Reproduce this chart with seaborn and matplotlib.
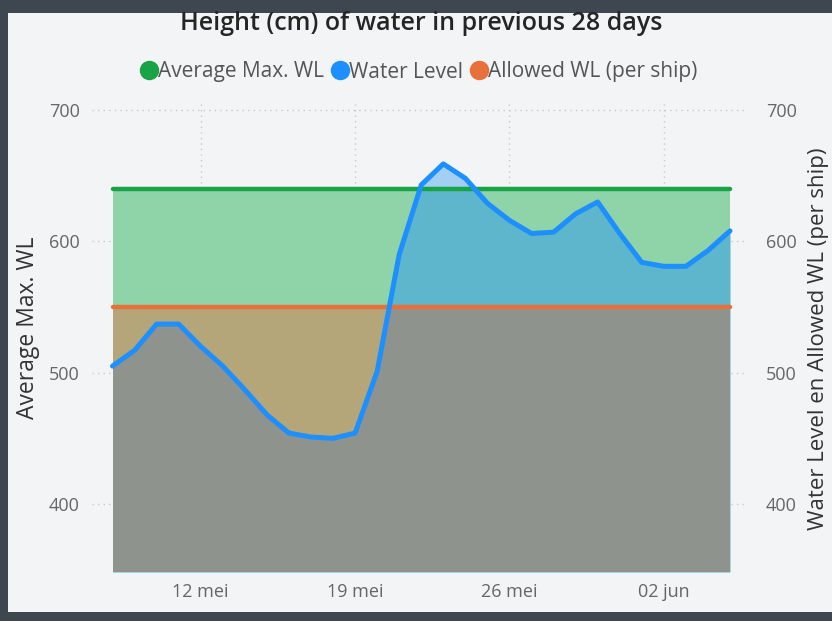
import numpy as np
import pandas as pd
import matplotlib
matplotlib.use("Agg")
import matplotlib.pyplot as plt
from matplotlib.lines import Line2D
from matplotlib.patches import Rectangle
import seaborn as sns

# ---------------- data ----------------
dates = pd.date_range("2024-05-08", "2024-06-05", freq="D")
water_level = [505, 517, 537, 537, 520, 505, 487, 468, 454, 451, 450, 454, 501,
               590, 643, 659, 648, 629, 616, 606, 607, 621, 630, 606, 584, 581,
               581, 593, 608]
avg_max_wl = [640] * 29
allowed_wl = [550] * 29
tick_dates = pd.to_datetime(["2024-05-12", "2024-05-19", "2024-05-26", "2024-06-02"])
tick_labels = ["12 mei", "19 mei", "26 mei", "02 jun"]
y_ticks = [400, 500, 600, 700]
series_names = ["Average Max. WL", "Water Level", "Allowed WL (per ship)"]

# ---------------- style ----------------
sns.set_theme(style="white")
plt.rcParams["font.family"] = ["Open Sans", "DejaVu Sans"]

c_green, c_blue, c_orange = "#18A347", "#1E8FFF", "#E8703A"
f_green, f_teal, f_lblue, f_tan, f_gray = "#8FD4A9", "#5DB6CC", "#A3D0F2", "#B5A67A", "#8F938E"

W, H = 832, 621
fig = plt.figure(figsize=(W / 100, H / 100), dpi=100)
fig.patch.set_facecolor("#3E4650")
bg = fig.add_axes([0, 0, 1, 1], zorder=-10)
bg.set_axis_off()
bg.set_xlim(0, W)
bg.set_ylim(H, 0)
bg.add_patch(Rectangle((8, 13), W, 599, facecolor="#F3F4F5", edgecolor="none"))

ax = fig.add_axes([92 / W, 1 - 572 / H, (745 - 92) / W, (572 - 101) / H])
ax.set_facecolor("none")

wl = np.array(water_level, dtype=float)
gm = np.array(avg_max_wl, dtype=float)
al = np.array(allowed_wl, dtype=float)
ybot, ytop = 348.2, 706.9

# area fills (layered to reproduce the overlapping transparent areas)
ax.fill_between(dates, ybot, gm, color=f_green, lw=0, zorder=1)
ax.fill_between(dates, ybot, wl, color=f_teal, lw=0, zorder=2)
ax.fill_between(dates, gm, wl, where=wl > gm, interpolate=True, color=f_lblue, lw=0, zorder=3)
ax.fill_between(dates, ybot, al, color=f_gray, lw=0, zorder=4)
ax.fill_between(dates, wl, al, where=wl < al, interpolate=True, color=f_tan, lw=0, zorder=5)

# lines
sns.lineplot(x=dates, y=avg_max_wl, ax=ax, color=c_green, lw=3.2, zorder=6, legend=False)
sns.lineplot(x=dates, y=allowed_wl, ax=ax, color=c_orange, lw=3.2, zorder=7, legend=False)
sns.lineplot(x=dates, y=water_level, ax=ax, color=c_blue, lw=3.6, zorder=8, legend=False,
             solid_joinstyle="round")

day = pd.Timedelta(days=1)
ax.set_xlim(dates[0] - 0.93 * day, dates[-1] + 0.68 * day)
ax.set_ylim(ybot, ytop)
ax.set_xticks(tick_dates)
ax.set_xticklabels(tick_labels)
ax.set_yticks(y_ticks)
ax.set_xlabel("")
ax.tick_params(axis="both", length=0, labelsize=13, labelcolor="#666666")
ax.tick_params(axis="x", pad=8)
ax.tick_params(axis="y", pad=9)
ax.grid(True, color="#C9C9C9", linestyle=(0, (1, 3)), lw=1)
ax.set_axisbelow(True)
for s in ax.spines.values():
    s.set_visible(False)
ax.set_ylabel("Average Max. WL", fontsize=16.5, color="#333333", va="center", ha="center")
ax.yaxis.set_label_coords((28 - 92) / 653, (572 - 328) / 471)

ax2 = ax.twinx()
ax2.set_ylim(ybot, ytop)
ax2.set_yticks(y_ticks)
ax2.tick_params(axis="y", length=0, labelsize=13, labelcolor="#666666", pad=15)
for s in ax2.spines.values():
    s.set_visible(False)
ax2.set_ylabel("Water Level en Allowed WL (per ship)", fontsize=16, color="#333333",
               va="center", ha="center")
ax2.yaxis.set_label_coords((818 - 92) / 653, (572 - 339) / 471)

fig.text(421 / W, 1 - 23 / H, "Height (cm) of water in previous 28 days",
         ha="center", va="center", fontsize=18, color="#252525", fontweight="semibold")

handles = [Line2D([], [], marker="o", ls="none", markersize=13, color=c)
           for c in (c_green, c_blue, c_orange)]
fig.legend(handles, series_names, loc="center", bbox_to_anchor=(417 / W, 1 - 72 / H),
           ncol=3, frameon=False, fontsize=15, labelcolor="#555555",
           handletextpad=-0.15, columnspacing=0.15, handlelength=1.2)

fig.savefig("out.png", dpi=100, facecolor=fig.get_facecolor())
